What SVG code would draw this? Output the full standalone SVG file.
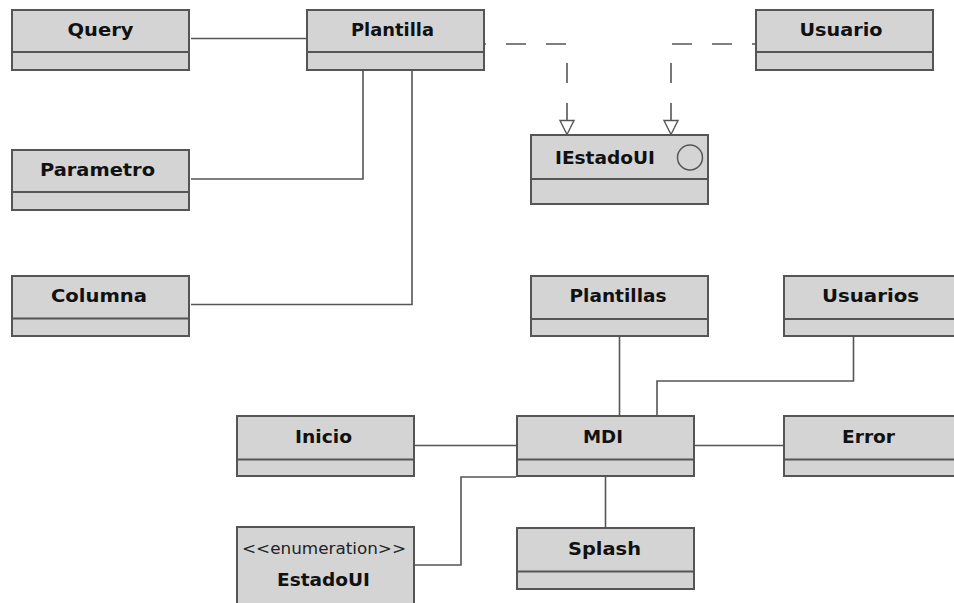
<svg xmlns="http://www.w3.org/2000/svg" width="954" height="603" viewBox="0 0 954 603">
  <style>
    .box { fill: #d4d4d4; stroke: #555555; stroke-width: 2; }
    .div { stroke: #555555; stroke-width: 2; }
    .name { font-family: "DejaVu Sans", "Liberation Sans", sans-serif; font-weight: bold; font-size: 18.5px; fill: #111111; text-anchor: middle; }
    .stereo { font-family: "DejaVu Sans", "Liberation Sans", sans-serif; font-size: 15px; fill: #222222; text-anchor: middle; }
    .link { fill: none; stroke: #555555; stroke-width: 1.6; }
    .real { fill: none; stroke: #555555; stroke-width: 1.6; stroke-dasharray: 20 20; stroke-dashoffset: 3; }
    .head { fill: #ffffff; stroke: #555555; stroke-width: 1.4; }
  </style>
  <rect width="954" height="603" fill="#ffffff"/>

  <g id="connectors">
    <path class="link" d="M191 38.5 H306"/>
    <path class="link" d="M191 179 H363 V71"/>
    <path class="link" d="M191 304.5 H412 V71"/>
    <path class="link" d="M619.5 337 V415"/>
    <path class="link" d="M853.5 337 V381 H657 V415"/>
    <path class="link" d="M415 445.5 H516"/>
    <path class="link" d="M695 445.5 H783"/>
    <path class="link" d="M605.5 477 V527"/>
    <path class="link" d="M415 565 H461 V477 H516"/>
    <!-- realizations of IEstadoUI -->
    <path class="real" d="M567 120 V44 H485"/>
    <path class="real" d="M671 120 V44 H755"/>
    <polygon class="head" points="560,120.5 574,120.5 567,134.5"/>
    <polygon class="head" points="664,120.5 678,120.5 671,134.5"/>
  </g>

  <g id="query">
    <rect class="box" x="12" y="10" width="177" height="60"/>
    <line class="div" x1="12" y1="52" x2="189" y2="52"/>
    <text class="name" x="100.5" y="36" textLength="66" lengthAdjust="spacingAndGlyphs">Query</text>
  </g>
  <g id="plantilla">
    <rect class="box" x="307" y="10" width="177" height="60"/>
    <line class="div" x1="307" y1="52" x2="484" y2="52"/>
    <text class="name" x="392.5" y="36" textLength="83" lengthAdjust="spacingAndGlyphs">Plantilla</text>
  </g>
  <g id="usuario">
    <rect class="box" x="756" y="10" width="177" height="60"/>
    <line class="div" x1="756" y1="52" x2="933" y2="52"/>
    <text class="name" x="841" y="36" textLength="83" lengthAdjust="spacingAndGlyphs">Usuario</text>
  </g>
  <g id="parametro">
    <rect class="box" x="12" y="150" width="177" height="60"/>
    <line class="div" x1="12" y1="192" x2="189" y2="192"/>
    <text class="name" x="97.5" y="176" textLength="115" lengthAdjust="spacingAndGlyphs">Parametro</text>
  </g>
  <g id="columna">
    <rect class="box" x="12" y="276" width="177" height="60"/>
    <line class="div" x1="12" y1="318.5" x2="189" y2="318.5"/>
    <text class="name" x="99" y="302" textLength="96" lengthAdjust="spacingAndGlyphs">Columna</text>
  </g>
  <g id="iestadoui">
    <rect class="box" x="531" y="135" width="177" height="69"/>
    <line class="div" x1="531" y1="179" x2="708" y2="179"/>
    <text class="name" x="605" y="164" textLength="100" lengthAdjust="spacingAndGlyphs">IEstadoUI</text>
    <circle cx="690" cy="157.5" r="12.5" fill="none" stroke="#555555" stroke-width="1.5"/>
  </g>
  <g id="plantillas">
    <rect class="box" x="531" y="276" width="177" height="60"/>
    <line class="div" x1="531" y1="319" x2="708" y2="319"/>
    <text class="name" x="618" y="302" textLength="97" lengthAdjust="spacingAndGlyphs">Plantillas</text>
  </g>
  <g id="usuarios">
    <rect class="box" x="784" y="276" width="177" height="60"/>
    <line class="div" x1="784" y1="319" x2="961" y2="319"/>
    <text class="name" x="870.5" y="302" textLength="97" lengthAdjust="spacingAndGlyphs">Usuarios</text>
  </g>
  <g id="inicio">
    <rect class="box" x="237" y="416" width="177" height="60"/>
    <line class="div" x1="237" y1="459.5" x2="414" y2="459.5"/>
    <text class="name" x="323.5" y="442.5" textLength="57" lengthAdjust="spacingAndGlyphs">Inicio</text>
  </g>
  <g id="mdi">
    <rect class="box" x="517" y="416" width="177" height="60"/>
    <line class="div" x1="517" y1="459.5" x2="694" y2="459.5"/>
    <text class="name" x="603" y="442.5" textLength="40" lengthAdjust="spacingAndGlyphs">MDI</text>
  </g>
  <g id="error">
    <rect class="box" x="784" y="416" width="177" height="60"/>
    <line class="div" x1="784" y1="459.5" x2="961" y2="459.5"/>
    <text class="name" x="868.5" y="442.5" textLength="53" lengthAdjust="spacingAndGlyphs">Error</text>
  </g>
  <g id="estadoui">
    <rect class="box" x="237" y="527" width="177" height="100"/>
    <text class="stereo" x="324" y="554" textLength="164" lengthAdjust="spacingAndGlyphs">&lt;&lt;enumeration&gt;&gt;</text>
    <text class="name" x="323.5" y="585.5" textLength="93" lengthAdjust="spacingAndGlyphs">EstadoUI</text>
  </g>
  <g id="splash">
    <rect class="box" x="517" y="528" width="177" height="61"/>
    <line class="div" x1="517" y1="571.5" x2="694" y2="571.5"/>
    <text class="name" x="604.5" y="554.5" textLength="73" lengthAdjust="spacingAndGlyphs">Splash</text>
  </g>
</svg>
